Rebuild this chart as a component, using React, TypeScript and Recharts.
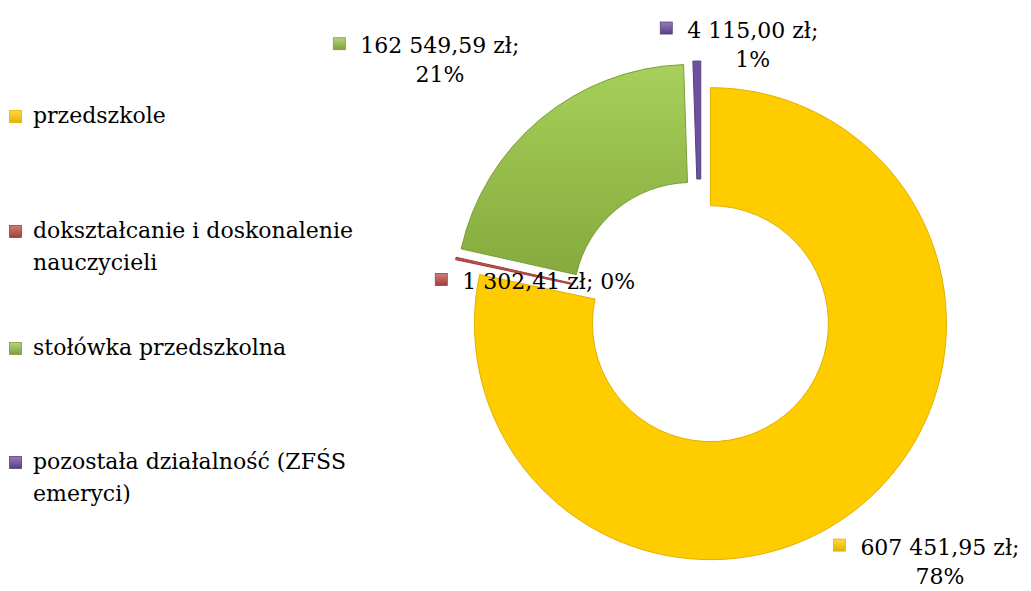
import { Cell, Legend, Pie, PieChart } from 'recharts'

/* Donut of 2023 spending by section; every slice pulled out a little
   from the centre, labels show amount in zł and rounded share. */

const CATEGORIES = [
  'przedszkole',
  'dokształcanie i doskonalenie nauczycieli',
  'stołówka przedszkolna',
  'pozostała działalność (ZFŚS emeryci)',
]
const LEGEND_LINES = [
  ['przedszkole'],
  ['dokształcanie i doskonalenie', 'nauczycieli'],
  ['stołówka przedszkolna'],
  ['pozostała działalność (ZFŚS', 'emeryci)'],
]
const AMOUNTS = [607451.95, 1302.41, 162549.59, 4115.0]

const FILLS = ['#FFCC00', '#C0504D', '#9BC451', '#6E50A0']
const EDGES = ['#E3B000', '#A23C39', '#7D9E3A', '#57407F']
const FONT = '"DejaVu Serif", serif'
const FONT_SIZE = 22

const CX = 701
const CY = 312
const OUTER = 236
const INNER = 118
const EXPLODE = 15
const RADIAN = Math.PI / 180

// label anchor shift from the slice's outer mid point; red label sits on one line
const LABEL_SHIFT: [number, number][] = [
  [81, 40],
  [93, 23],
  [-101, -73],
  [56, -31],
]
const LABEL_ONE_LINE = [false, true, false, false]
const LEGEND_TOP = [100, 215, 332, 446]

const pieData = CATEGORIES.map((name, i) => ({ name, value: AMOUNTS[i] }))
const total = AMOUNTS.reduce((a, b) => a + b, 0)

function fmtZl(v: number) {
  const [int, dec] = v.toFixed(2).split('.')
  return `${int.replace(/\B(?=(\d{3})+(?!\d))/g, ' ')},${dec} zł;`
}

let ctx: CanvasRenderingContext2D | null = null
function textWidth(s: string) {
  if (!ctx) ctx = document.createElement('canvas').getContext('2d')
  if (!ctx) return s.length * 12
  ctx.font = `${FONT_SIZE}px ${FONT}`
  return ctx.measureText(s).width
}

// mid angle of each slice in recharts degrees (start at 12 o'clock, clockwise)
const midAngles = (() => {
  let acc = 0
  return AMOUNTS.map((v) => {
    const mid = 90 - 360 * ((acc + v / 2) / total)
    acc += v
    return mid
  })
})()

function Marker({ x, y, i }: { x: number; y: number; i: number }) {
  return (
    <rect
      x={x}
      y={y}
      width={12}
      height={12}
      fill={`url(#key${i})`}
      stroke={EDGES[i]}
      strokeWidth={0.8}
    />
  )
}

function makeLabel(slice: number) {
  return (props: any) => {
    const { cx, cy, midAngle, outerRadius, index, percent } = props
    if (index !== slice) return null
    const ox = cx + outerRadius * Math.cos(-midAngle * RADIAN)
    const oy = cy + outerRadius * Math.sin(-midAngle * RADIAN)
    const ax = ox + LABEL_SHIFT[slice][0]
    const ay = oy + LABEL_SHIFT[slice][1]
    const pct = `${Math.round(percent * 100)}%`
    const line1 = LABEL_ONE_LINE[slice] ? `${fmtZl(AMOUNTS[slice])} ${pct}` : fmtZl(AMOUNTS[slice])
    const w = textWidth(line1)
    return (
      <g>
        <Marker x={ax - w / 2 - 27} y={ay - 8} i={slice} />
        <text
          x={ax}
          y={ay}
          textAnchor="middle"
          dominantBaseline="central"
          fontFamily={FONT}
          fontSize={FONT_SIZE}
          fill="#000"
        >
          {line1}
        </text>
        {LABEL_ONE_LINE[slice] ? null : (
          <text
            x={ax}
            y={ay + 29}
            textAnchor="middle"
            dominantBaseline="central"
            fontFamily={FONT}
            fontSize={FONT_SIZE}
            fill="#000"
          >
            {pct}
          </text>
        )}
      </g>
    )
  }
}

function LegendBox() {
  return (
    <div style={{ position: 'relative', width: 0, height: 0 }}>
      {LEGEND_LINES.map((lines, i) => (
        <div
          key={CATEGORIES[i]}
          style={{
            position: 'absolute',
            left: 9,
            top: LEGEND_TOP[i],
            display: 'flex',
            alignItems: 'flex-start',
            fontFamily: FONT,
            fontSize: FONT_SIZE,
            color: '#000',
            whiteSpace: 'nowrap',
          }}
        >
          <svg width={13} height={13} style={{ marginTop: 10, flex: 'none' }}>
            <Marker x={0.5} y={0.5} i={i} />
          </svg>
          <div style={{ marginLeft: 11, lineHeight: '32px' }}>
            {lines.map((l) => (
              <div key={l}>{l}</div>
            ))}
          </div>
        </div>
      ))}
    </div>
  )
}

export default function App() {
  return (
    <div style={{ width: 1031, height: 591, background: '#fff' }}>
      <style>{'body{margin:0}'}</style>
      <PieChart width={1031} height={591} margin={{ top: 0, right: 0, bottom: 0, left: 0 }}>
        <defs>
          {FILLS.map((c, i) => (
            <linearGradient key={c} id={`key${i}`} x1="0" y1="0" x2="0" y2="1">
              <stop offset="0%" stopColor={c} stopOpacity={0.75} />
              <stop offset="100%" stopColor={EDGES[i]} />
            </linearGradient>
          ))}
          <linearGradient id="slice2" x1="0" y1="0" x2="0" y2="1">
            <stop offset="0%" stopColor="#A6D05A" />
            <stop offset="100%" stopColor="#86AA3E" />
          </linearGradient>
        </defs>
        <Legend
          layout="horizontal"
          verticalAlign="top"
          align="left"
          wrapperStyle={{ top: 0, left: 0, width: 0, height: 0 }}
          content={() => <LegendBox />}
        />
        {CATEGORIES.map((name, i) => (
          <Pie
            key={name}
            data={pieData}
            dataKey="value"
            nameKey="name"
            cx={CX + EXPLODE * Math.cos(midAngles[i] * RADIAN)}
            cy={CY - EXPLODE * Math.sin(midAngles[i] * RADIAN)}
            innerRadius={INNER}
            outerRadius={OUTER}
            startAngle={90}
            endAngle={-270}
            label={makeLabel(i)}
            labelLine={false}
            isAnimationActive={false}
          >
            {pieData.map((d, j) => (
              <Cell
                key={d.name}
                fill={j !== i ? 'transparent' : i === 2 ? 'url(#slice2)' : FILLS[i]}
                stroke={j === i ? EDGES[i] : 'none'}
                strokeWidth={j === i ? 1 : 0}
              />
            ))}
          </Pie>
        ))}
      </PieChart>
    </div>
  )
}
